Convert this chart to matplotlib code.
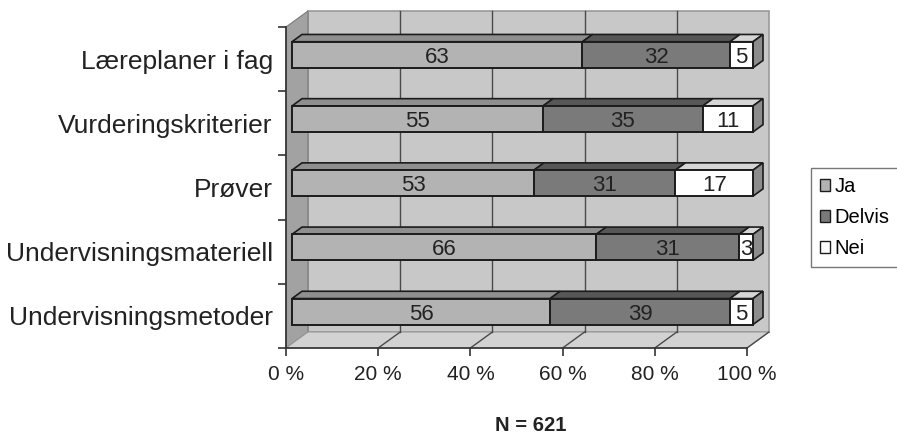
import matplotlib
matplotlib.use("Agg")
import matplotlib.pyplot as plt
from matplotlib.patches import Polygon, Rectangle, Patch
import numpy as np

plt.rcParams['font.family'] = ['Liberation Sans', 'DejaVu Sans']

# data (percent, stacked to 100)
categories = ["Læreplaner i fag", "Vurderingskriterier", "Prøver",
              "Undervisningsmateriell", "Undervisningsmetoder"]
ja = [63, 55, 53, 66, 56]
delvis = [32, 35, 31, 31, 39]
nei = [5, 11, 17, 3, 5]
series_names = ["Ja", "Delvis", "Nei"]
xticks = [0, 20, 40, 60, 80, 100]
xticklabels = ["0 %", "20 %", "40 %", "60 %", "80 %", "100 %"]
note = "N = 621"

front_col = ["#b3b3b3", "#7a7a7a", "#ffffff"]
top_col = ["#8f8f8f", "#575757", "#d6d6d6"]
end_col = "#8c8c8c"
edge = "#1c1c1c"

W, H = 897, 436
fig = plt.figure(figsize=(W / 100, H / 100), dpi=100)
# front plane of the "3d" box, in pixels
x0, x1, ytop, ybot = 286, 747, 27, 348
ax = fig.add_axes([x0 / W, (H - ybot) / H, (x1 - x0) / W, (ybot - ytop) / H])
ax.set_xlim(0, 100)
ax.set_ylim(len(categories) - 0.5, -0.5)

# pixel -> data unit helpers
px_x = 100 / (x1 - x0)
px_y = len(categories) / (ybot - ytop)
DX, DY = 22 * px_x, 16 * px_y          # full depth of box
f0, fb = 6 / 22, 10 / 22               # bar start depth / bar depth (fractions)
h = 26 * px_y                          # bar front height

ymin, ymax = -0.5, len(categories) - 0.5

# back wall, side wall, floor
ax.add_patch(Rectangle((DX, ymin - DY), 100, ymax - ymin, facecolor="#c8c8c8",
                       edgecolor="#9a9a9a", lw=1.2, zorder=0, clip_on=False))
ax.add_patch(Polygon([(0, ymin), (DX, ymin - DY), (DX, ymax - DY), (0, ymax)],
                     closed=True, facecolor="#a2a2a2", edgecolor="#7a7a7a",
                     lw=0.8, zorder=0.5, clip_on=False))
ax.add_patch(Polygon([(0, ymax), (100, ymax), (100 + DX, ymax - DY), (DX, ymax - DY)],
                     closed=True, facecolor="#d2d2d2", edgecolor="#9a9a9a",
                     lw=0.8, zorder=0.5, clip_on=False))

# gridlines on back wall and floor
for xv in xticks[1:-1]:
    ax.plot([xv + DX, xv + DX], [ymin - DY, ymax - DY], color="#4a4a4a", lw=1,
            zorder=1, clip_on=False)
for xv in xticks[1:]:
    ax.plot([xv, xv + DX], [ymax, ymax - DY], color="#4a4a4a", lw=1,
            zorder=1, clip_on=False)

# stacked 3d bars
data = np.array([ja, delvis, nei], dtype=float)
data = data / data.sum(axis=0) * 100
vals = [ja, delvis, nei]
for i in range(len(categories)):
    yc = i - f0 * DY
    yt, yb = yc - h / 2, yc + h / 2
    left = 0
    for s in range(3):
        w = data[s, i]
        xl = left + f0 * DX
        xr = xl + w
        ax.barh(yc, w, left=xl, height=h, color=front_col[s], edgecolor=edge,
                lw=1.4, zorder=3, clip_on=False)
        ax.add_patch(Polygon([(xl, yt), (xr, yt), (xr + fb * DX, yt - fb * DY),
                              (xl + fb * DX, yt - fb * DY)], closed=True,
                             facecolor=top_col[s], edgecolor=edge, lw=1.2,
                             zorder=2.9, clip_on=False))
        ax.text((xl + xr) / 2, yc, str(vals[s][i]), ha="center",
                va="center_baseline", fontsize=16, color="#222222", zorder=5)
        left += w
    xr = left + f0 * DX
    ax.add_patch(Polygon([(xr, yt), (xr + fb * DX, yt - fb * DY),
                          (xr + fb * DX, yb - fb * DY), (xr, yb)], closed=True,
                         facecolor=end_col, edgecolor=edge, lw=1.2,
                         zorder=2.9, clip_on=False))

# axes
for sp in ["top", "right"]:
    ax.spines[sp].set_visible(False)
for sp in ["left", "bottom"]:
    ax.spines[sp].set_color("#333333")
    ax.spines[sp].set_linewidth(1.2)
    ax.spines[sp].set_zorder(2)
ax.set_facecolor("none")
ax.set_xticks(xticks)
ax.set_xticklabels(xticklabels, fontsize=15, color="#222222")
ax.tick_params(axis="x", length=6, width=1.2, color="#333333", pad=6.5)
ax.set_yticks(range(len(categories)))
ax.set_yticklabels(categories, fontsize=19, color="#222222")
ax.tick_params(axis="y", which="major", length=0, pad=9.5)
ax.set_yticks(np.arange(ymin, ymax + 0.01, 1), minor=True)
ax.tick_params(axis="y", which="minor", length=6, width=1.2, color="#333333")

# legend
handles = [Patch(facecolor=c, edgecolor=edge, lw=1.0) for c in front_col]
fig.legend(handles, series_names, loc="upper left",
           bbox_to_anchor=(811 / W, 1 - 168 / H), fontsize=14.5,
           frameon=True, fancybox=False, edgecolor="#555555",
           handlelength=0.5, handleheight=0.5, handletextpad=0.2,
           labelspacing=0.6, borderpad=0.45, borderaxespad=0)

fig.text(531 / W, 1 - 425 / H, note, ha="center", va="center", fontsize=14.5,
         fontweight="bold", color="#222222")

fig.savefig("out.png", dpi=100)
